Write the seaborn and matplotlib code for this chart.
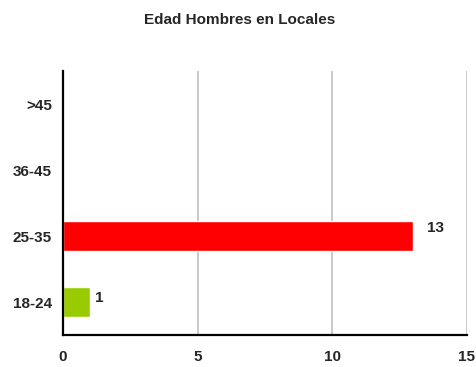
import matplotlib
matplotlib.use("Agg")
import matplotlib.pyplot as plt
import seaborn as sns
import pandas as pd
from matplotlib.ticker import FixedLocator

# =========================
# DATA
# =========================
categories = [">45", "36-45", "25-35", "18-24"]
values = [0, 0, 13, 1]
bar_colors = ["#99CC00", "#99CC00", "#FF0000", "#99CC00"]
x_ticks = [0, 5, 10, 15]
title = "Edad Hombres en Locales"

df = pd.DataFrame({"edad": categories, "n": values})

sns.set_style("white")
plt.rcParams["font.family"] = ["Liberation Sans", "DejaVu Sans"]
plt.rcParams["font.weight"] = "bold"

fig = plt.figure(figsize=(4.77, 3.67), dpi=100)
ax = fig.add_axes([0.132, 0.087, 0.847, 0.719])

sns.barplot(data=df, x="n", y="edad", hue="edad", order=categories,
            palette=dict(zip(categories, bar_colors)), orient="h",
            width=0.45, saturation=1, legend=False, ax=ax)

ax.set_xlim(0, 15)
ax.set_ylim(3.5, -0.5)
ax.set_xticks(x_ticks)
ax.set_xticklabels([str(t) for t in x_ticks], fontsize=11, fontweight="bold")
ax.set_yticks(range(len(categories)))
ax.set_yticklabels(categories, fontsize=11, fontweight="bold")
ax.tick_params(axis="y", which="major", length=0, pad=8)
ax.yaxis.set_minor_locator(FixedLocator([-0.5, 0.5, 1.5, 2.5, 3.5]))
ax.tick_params(axis="y", which="minor", length=4, width=1.5, color="black", direction="out")
ax.tick_params(axis="x", which="major", length=4, width=1.5, color="black", direction="out", pad=7)
ax.set_xlabel("")
ax.set_ylabel("")

for gx in x_ticks[1:]:
    ax.axvline(gx, color="#C0C0C0", linewidth=1.2, zorder=0)

for side in ["top", "right"]:
    ax.spines[side].set_visible(False)
for side in ["left", "bottom"]:
    ax.spines[side].set_color("black")
    ax.spines[side].set_linewidth(1.6)

# value labels on non-empty bars
offsets = {"25-35": (10, 6), "18-24": (4, 3)}
for i, (cat, v) in enumerate(zip(categories, values)):
    if v > 0:
        ax.annotate(str(v), xy=(v, i), xytext=offsets[cat], textcoords="offset points",
                    ha="left", va="center", fontsize=11, fontweight="bold")

fig.suptitle(title, x=0.503, y=0.965, fontsize=11, fontweight="bold")

fig.savefig("out.png", dpi=100)
